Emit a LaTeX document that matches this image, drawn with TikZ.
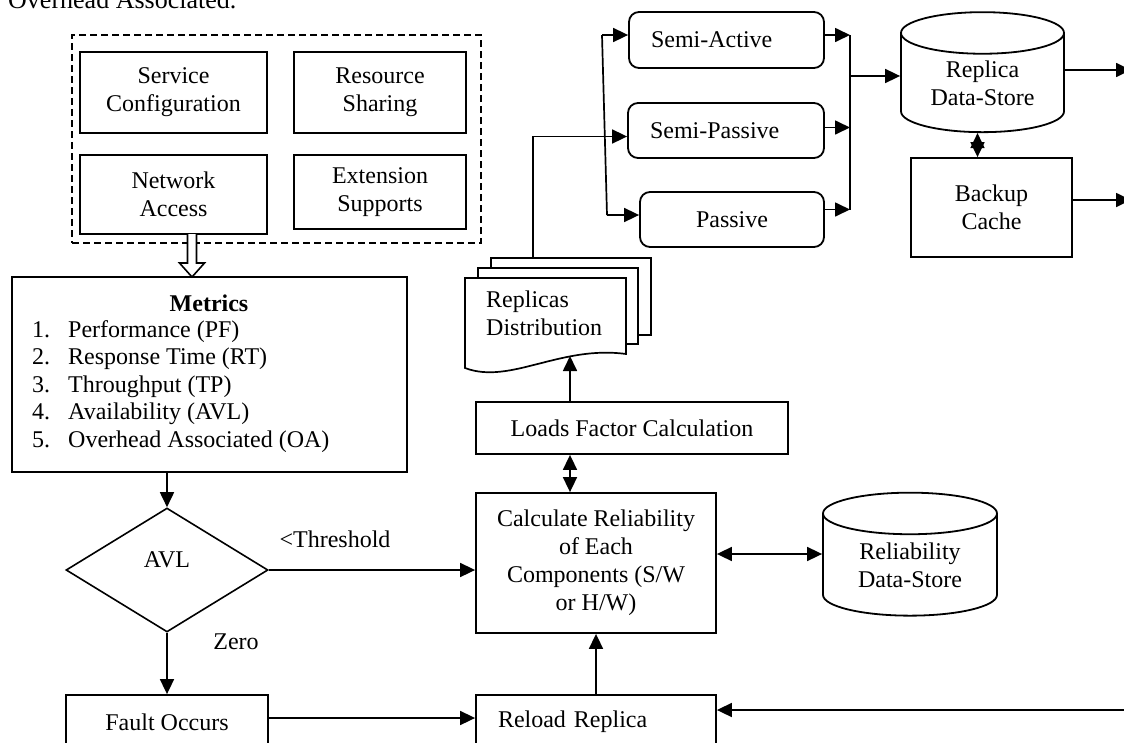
\documentclass[tikz,border=0pt]{standalone}
\usepackage{fontspec}
\setmainfont{Liberation Serif}
\usetikzlibrary{shapes.geometric, arrows.meta, calc}

\tikzset{
    box/.style={draw, line width=1.8pt, align=center, inner sep=0pt},
    rbox/.style={box, rounded corners=10pt},
    store/.style={draw, line width=1.8pt, cylinder, shape border rotate=90, aspect=0.4, align=center, inner sep=0pt},
    decision/.style={draw, line width=1.6pt, diamond, inner sep=0pt},
    line/.style={line width=1.7pt},
    arr/.style={line, -{Triangle[length=15pt,width=14pt]}},
    darr/.style={line, {Triangle[length=15pt,width=14pt]}-{Triangle[length=15pt,width=14pt]}}
}

\begin{document}
\begin{tikzpicture}[x=1pt, y=-1pt, font=\fontsize{24}{28}\selectfont]
    \useasboundingbox (0,0) rectangle (1124,742);
    \clip (0,0) rectangle (1124,742);

    % Previous text line (cut off)
    \node[anchor=base west, inner sep=0pt, font=\fontsize{26}{30}\selectfont] (prev) at (8,8) {Overhead Associated.};

    % Service group
    \node[draw, line width=1.7pt, dash pattern=on 7pt off 4pt, minimum width=409pt, minimum height=208pt] (grp) at (276.5,139) {};
    \node[box, minimum width=187pt, minimum height=81pt] (svc) at (173.5,92.5) {Service\\Configuration};
    \node[box, minimum width=172pt, minimum height=81pt] (res) at (380,92.5) {Resource\\Sharing};
    \node[box, minimum width=187pt, minimum height=79pt] (net) at (173.5,194.5) {Network\\Access};
    \node[box, minimum width=172pt, minimum height=74pt] (ext) at (380,192) {Extension\\Supports};

    % Hollow arrow into metrics
    \coordinate (hol) at (192,234);
    \draw[line width=1.6pt, fill=white] (hol) ++(-4.5,0) -- ++(0,29) -- ++(-8,0) -- ++(12.5,14) -- ++(12.5,-14) -- ++(-8,0) -- ++(0,-29);

    % Metrics
    \node[box, minimum width=395pt, minimum height=195pt] (metrics) at (209.5,374.5) {};
    \node[anchor=base, inner sep=0pt, font=\fontsize{24}{28}\selectfont\bfseries] (mtitle) at (209,311) {Metrics};
    \foreach \i/\txt in {1/Performance (PF), 2/Response Time (RT), 3/Throughput (TP),
        4/Availability (AVL), 5/Overhead Associated (OA)} {
        \pgfmathsetmacro{\y}{337+(\i-1)*27.5}
        \node[anchor=base west, inner sep=0pt] (num\i) at (32,\y) {\i.};
        \node[anchor=base west, inner sep=0pt] (met\i) at (68,\y) {\txt};
    }

    % Decision
    \node[decision, minimum width=202pt, minimum height=124pt,
        label={[name=avltxt, yshift=10pt]center:AVL}] (avl) at (167,570) {};
    \node (thr) at (335,539) {<Threshold};
    \node (zero) at (236,642) {Zero};

    % Lower row
    \node[box, minimum width=202pt, minimum height=54pt] (fault) at (167,722) {Fault Occurs};
    \node[box, minimum width=240pt, minimum height=54pt, text width=196pt, inner xsep=22pt, align=left] (reload) at (596,722) {Reload Replica};
    \node[box, minimum width=240pt, minimum height=140pt] (calc) at (596,563) {Calculate Reliability\\of Each\\Components (S/W\\or H/W)};
    \node[store, minimum width=174pt, minimum height=123pt] (rel) at (910,565) {Reliability\\Data-Store};
    \node[box, minimum width=312pt, minimum height=52pt] (loads) at (632,428) {Loads Factor Calculation};

    % Replicas distribution (stacked documents)
    \coordinate (distout) at (533,258);
    \coordinate (distin) at (570,356);
    \draw[line, fill=white] (491,258) rectangle (651,335);
    \draw[line, fill=white] (478,268) rectangle (638,344);
    \draw[line, fill=white] (465,368) -- (465,278) -- (626,278) -- (626,354) .. controls (560,345) and (510,385) .. (465,368) -- cycle;
    \node[anchor=west, align=left, inner sep=0pt] (dist) at (486,313.5) {Replicas\\Distribution};

    % Replication modes
    \node[rbox, minimum width=195pt, minimum height=56pt, text width=151pt, inner xsep=22pt, align=left] (sa) at (726.5,40) {Semi-Active};
    \node[rbox, minimum width=196pt, minimum height=55pt, text width=152pt, inner xsep=22pt, align=left] (sp) at (726,130.5) {Semi-Passive};
    \node[rbox, minimum width=184pt, minimum height=55pt] (pa) at (732,219.5) {Passive};

    % Stores
    \node[store, minimum width=163pt, minimum height=120pt] (rep) at (982.5,83) {Replica\\Data-Store};
    \node[box, minimum width=161pt, minimum height=99pt] (bak) at (991.5,207.5) {Backup\\Cache};

    % Left column flow
    \draw[arr] (metrics.south -| avl.north) -- (avl.north);
    \draw[arr] (avl.south) -- (fault.north);
    \draw[arr] (avl.east) -- (avl.east -| calc.west);
    \draw[arr] ([yshift=4pt]fault.east) -- ([yshift=4pt]fault.east -| reload.west);
    \draw[arr] (reload.north) -- (calc.south);
    \draw[darr] ([yshift=11pt]calc.east |- rel.west) -- ([yshift=11pt]rel.west);
    \draw[darr] (loads.south -| distin) -- (calc.north -| distin);
    \draw[arr] (loads.north -| distin) -- (distin);

    % Distribution to modes
    \coordinate (split) at (602,35);
    \coordinate (splitend) at (607,215);
    \draw[line] (split) -- (splitend);
    \draw[arr] (split) -- (split -| sa.west);
    \draw[arr] (splitend) -- (splitend -| pa.west);
    \draw[arr] (distout) |- ([yshift=-6pt]sp.west);

    % Modes to replica store
    \coordinate (mtop) at (850,35);
    \coordinate (mbot) at (850,209.5);
    \draw[line] (mtop) -- (mbot);
    \draw[arr] ([yshift=5pt]sa.east) -- ([yshift=5pt]sa.east -| mtop);
    \draw[arr] ([yshift=3pt]sp.east) -- ([yshift=3pt]sp.east -| mtop);
    \draw[arr] ([yshift=10pt]pa.east) -- ([yshift=10pt]pa.east -| mtop);
    \draw[arr] ([yshift=7pt]mtop |- rep.west) -- ([yshift=7pt]rep.west);
    \draw[darr] ([xshift=-5pt]rep.south) -- ([xshift=-5pt]rep.south |- bak.north);

    % Outgoing and loop-back
    \coordinate (repout) at (1131,70);
    \coordinate (bakout) at (1131,200);
    \coordinate (loopin) at (1130,710);
    \draw[arr] (rep.east |- repout) -- (repout);
    \draw[arr] (bak.east |- bakout) -- (bakout);
    \draw[arr] (loopin) -- (loopin -| reload.east);
\end{tikzpicture}
\end{document}
